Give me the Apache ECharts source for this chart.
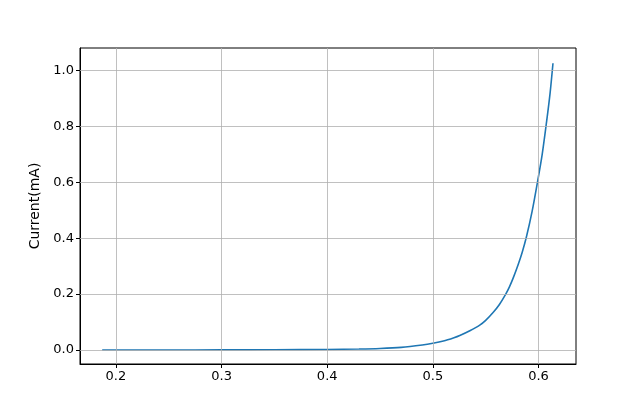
<!DOCTYPE html>
<html><head><meta charset="utf-8">
<script src="https://cdn.jsdelivr.net/npm/echarts@6/dist/echarts.min.js"></script>
<style>html,body{margin:0;padding:0;background:#fff}#c{width:640px;height:409px}</style>
</head><body><div id="c"></div>
<script>
const voltage = [0.187, 0.25, 0.30, 0.35, 0.40, 0.43, 0.45, 0.47, 0.49, 0.50, 0.51, 0.52, 0.5255, 0.535, 0.5444, 0.55, 0.557, 0.563, 0.569, 0.5725, 0.576, 0.5807, 0.5846, 0.5886, 0.594, 0.599, 0.6035, 0.6076, 0.611, 0.6137];
const current = [0.0, 0.0001, 0.0003, 0.0008, 0.0018, 0.0035, 0.0055, 0.0095, 0.018, 0.024, 0.032, 0.044, 0.052, 0.069, 0.089, 0.106, 0.134, 0.163, 0.2, 0.226, 0.257, 0.305, 0.35, 0.405, 0.497, 0.6, 0.70, 0.815, 0.92, 1.026];
const xTicks = [0.2, 0.3, 0.4, 0.5, 0.6];
const yTicks = [0.0, 0.2, 0.4, 0.6, 0.8, 1.0];
const yName = 'Current(mA)';

const chart = echarts.init(document.getElementById('c'), null, {renderer: 'canvas'});
const font = 'DejaVu Sans';
const gridStyle = {color: '#b0b0b0', width: 0.8, type: 'solid'};
chart.setOption({
  animation: false,
  grid: {left: 80, right: 64, top: 48, bottom: 45, show: true, borderColor: '#000', borderWidth: 1, backgroundColor: 'transparent'},
  xAxis: {
    type: 'value', min: 0.166, max: 0.6355,
    axisLine: {show: true, onZero: false, lineStyle: {color: '#000', width: 1}},
    axisTick: {show: true, customValues: xTicks, length: 4, inside: false, lineStyle: {color: '#000'}},
    axisLabel: {customValues: xTicks, color: '#000', fontFamily: font, fontSize: 13, margin: 6, formatter: v => v.toFixed(1)},
    splitLine: {show: false}
  },
  yAxis: {
    type: 'value', min: -0.0501, max: 1.0805,
    name: yName, nameLocation: 'middle', nameGap: 37, nameRotate: 90,
    nameTextStyle: {color: '#000', fontFamily: font, fontSize: 14},
    axisLine: {show: true, onZero: false, lineStyle: {color: '#000', width: 1}},
    axisTick: {show: true, customValues: yTicks, length: 4, inside: false, lineStyle: {color: '#000'}},
    axisLabel: {customValues: yTicks, color: '#000', fontFamily: font, fontSize: 13, margin: 6, formatter: v => v.toFixed(1)},
    splitLine: {show: false}
  },
  series: [
    {
      type: 'line', data: [], z: 1, silent: true,
      markLine: {
        silent: true, symbol: 'none', label: {show: false}, lineStyle: gridStyle, animation: false,
        data: xTicks.map(v => ({xAxis: v})).concat(yTicks.map(v => ({yAxis: v})))
      }
    },
    {
      type: 'line', z: 3,
      data: voltage.map((v, i) => [v, current[i]]),
      showSymbol: false, smooth: 0.3,
      lineStyle: {color: '#1f77b4', width: 1.6}
    }
  ]
});
</script></body></html>
